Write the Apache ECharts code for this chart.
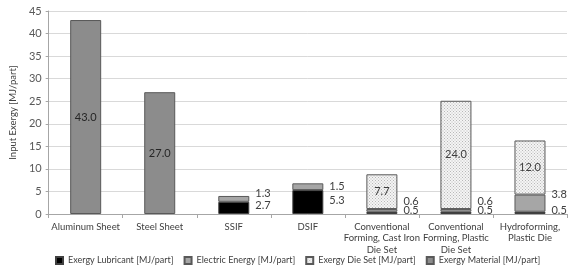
<!DOCTYPE html>
<html>
<head>
<meta charset="utf-8">
<script src="https://cdn.jsdelivr.net/npm/echarts@6/dist/echarts.min.js"></script>
<style>
  html, body { margin: 0; padding: 0; background: #fff; }
  #chart { width: 569px; height: 273px; }
</style>
</head>
<body>
<div id="chart"></div>
<script>
// data
const categories = ['Aluminum Sheet', 'Steel Sheet', 'SSIF', 'DSIF',
  'Conventional\nForming, Cast Iron\nDie Set', 'Conventional\nForming, Plastic\nDie Set', 'Hydroforming,\nPlastic Die'];
const lubricant = ['-', '-', 2.7, 5.3, 0.5, 0.5, 0.5];
const electric = ['-', '-', 1.3, 1.5, 0.6, 0.6, 3.8];
const dieSet = ['-', '-', '-', '-', 7.7, 24.0, 12.0];
const material = [43.0, 27.0, '-', '-', '-', '-', '-'];
const yTicks = [0, 5, 10, 15, 20, 25, 30, 35, 40, 45];

// label vertical nudges (style only)
const lubeDy = [0, 0, -2, -2, -2, -2, -2];
const elecDy = [0, 0, -5, 0, -9, -9, -9];

// dotted fill for die set
const pat = document.createElement('canvas');
pat.width = 3; pat.height = 3;
const pc = pat.getContext('2d');
pc.fillStyle = '#f4f4f4';
pc.fillRect(0, 0, 3, 3);
pc.fillStyle = '#b8b8b8';
pc.fillRect(0, 0, 1, 1);
pc.fillRect(1.5, 1.5, 1, 1);

const font = 'Lato';
const txt = '#404040';

const sideLabel = () => ({
    show: true,
    position: 'right',
    distance: 6,
    fontFamily: font,
    fontSize: 11,
    color: txt,
    formatter: (p) => p.value.toFixed(1),
});

const withOffsets = (arr, dys) => arr.map((v, i) => v === '-' ? v : {
    value: v,
    label: { offset: [0, dys[i]] },
});

const chart = echarts.init(document.getElementById('chart'));
chart.setOption({
    animation: false,
    textStyle: { fontFamily: font },
    grid: { left: 42, right: 2, top: 11, bottom: 59 },
    legend: {
        top: 251,
        left: 50,
        itemWidth: 7,
        itemHeight: 7,
        itemGap: 10,
        icon: 'rect',
        textStyle: { fontFamily: font, fontSize: 9, color: txt },
        data: ['Exergy Lubricant [MJ/part]', 'Electric Energy [MJ/part]', 'Exergy Die Set [MJ/part]', 'Exergy Material [MJ/part]'],
    },
    xAxis: {
        type: 'category',
        data: categories,
        axisLine: { lineStyle: { color: '#a6a6a6' } },
        axisTick: { show: true, length: 4, lineStyle: { color: '#a6a6a6' } },
        axisLabel: { interval: 0, fontSize: 9.5, color: txt, lineHeight: 11.5, margin: 7 },
    },
    yAxis: {
        type: 'value',
        min: yTicks[0],
        max: yTicks[yTicks.length - 1],
        interval: 5,
        name: 'Input Exergy [MJ/part]',
        nameLocation: 'middle',
        nameGap: 28,
        nameTextStyle: { fontSize: 9.5, color: txt },
        axisLine: { show: true, lineStyle: { color: '#a6a6a6' } },
        axisTick: { show: true, length: 3, lineStyle: { color: '#a6a6a6' } },
        axisLabel: { fontSize: 11, color: '#595959', margin: 7 },
        splitLine: { lineStyle: { color: '#d9d9d9' } },
    },
    series: [
        {
            name: 'Exergy Lubricant [MJ/part]',
            type: 'bar',
            stack: 'all',
            barWidth: 31,
            data: withOffsets(lubricant, lubeDy),
            itemStyle: { color: '#000000', borderColor: '#404040', borderWidth: 1 },
            label: sideLabel(),
        },
        {
            name: 'Electric Energy [MJ/part]',
            type: 'bar',
            stack: 'all',
            data: withOffsets(electric, elecDy),
            itemStyle: { color: '#a6a6a6', borderColor: '#595959', borderWidth: 1 },
            label: sideLabel(),
        },
        {
            name: 'Exergy Die Set [MJ/part]',
            type: 'bar',
            stack: 'all',
            data: dieSet,
            itemStyle: { color: { image: pat, repeat: 'repeat' }, borderColor: '#595959', borderWidth: 1 },
            label: {
                show: true, position: 'inside', fontSize: 11, color: txt,
                formatter: (p) => p.value.toFixed(1),
            },
        },
        {
            name: 'Exergy Material [MJ/part]',
            type: 'bar',
            stack: 'all',
            data: material,
            itemStyle: { color: '#8c8c8c', borderColor: '#595959', borderWidth: 1 },
            label: {
                show: true, position: 'inside', fontSize: 11, color: '#262626',
                formatter: (p) => p.value.toFixed(1),
            },
        },
    ],
});
</script>
</body>
</html>
